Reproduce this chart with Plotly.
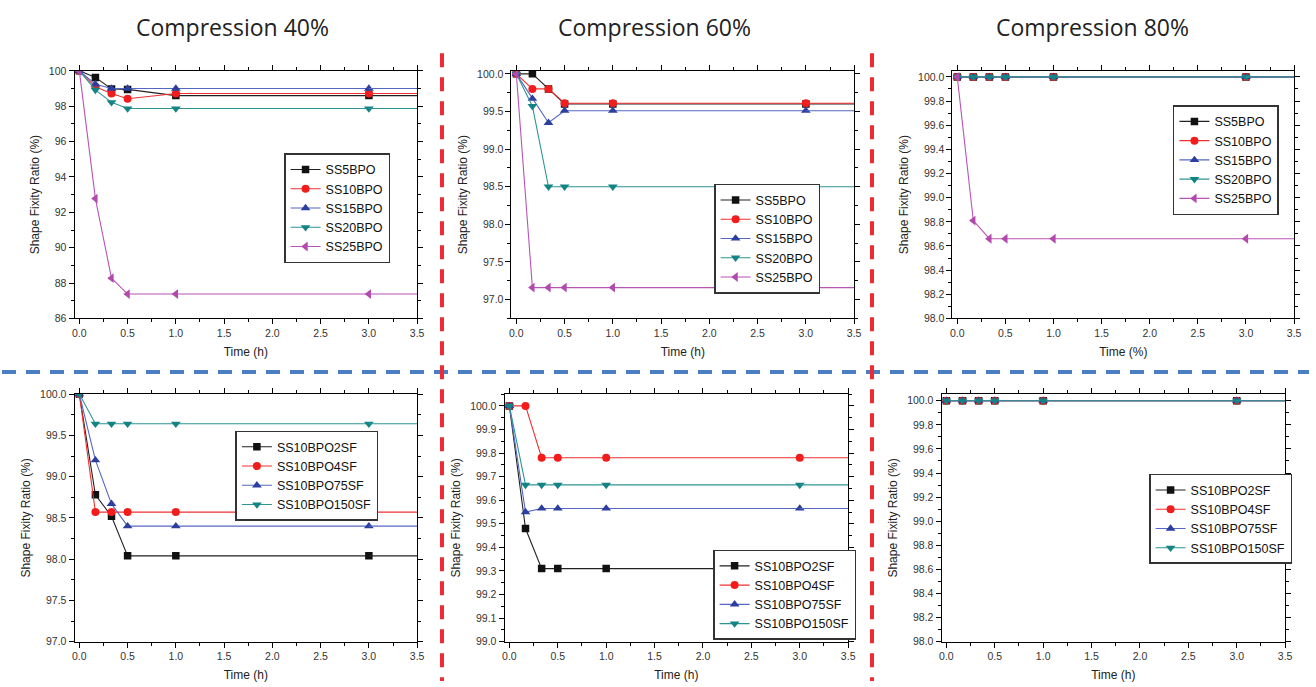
import plotly.graph_objects as go

W, H = 1316, 687

# ---------------------------------------------------------------- data
TIME_H = [0.0, 1 / 6, 1 / 3, 0.5, 1.0, 3.0]
X_END = 4.0  # curves keep running past the right edge of each window

BPO_LABELS = ["SS5BPO", "SS10BPO", "SS15BPO", "SS20BPO", "SS25BPO"]
SF_LABELS = ["SS10BPO2SF", "SS10BPO4SF", "SS10BPO75SF", "SS10BPO150SF"]

# Compression 40 %
C40_SS5BPO = [100.0, 99.63, 98.98, 98.95, 98.60, 98.60]
C40_SS10BPO = [100.0, 99.10, 98.72, 98.42, 98.72, 98.72]
C40_SS15BPO = [100.0, 99.24, 99.00, 99.00, 99.00, 99.00]
C40_SS20BPO = [100.0, 98.92, 98.22, 97.87, 97.87, 97.87]
C40_SS25BPO = [100.0, 92.78, 88.28, 87.38, 87.38, 87.38]

# Compression 60 %
C60_SS5BPO = [100.0, 100.0, 99.80, 99.60, 99.60, 99.60]
C60_SS10BPO = [100.0, 99.80, 99.80, 99.61, 99.61, 99.61]
C60_SS15BPO = [100.0, 99.67, 99.35, 99.51, 99.51, 99.51]
C60_SS20BPO = [100.0, 99.57, 98.50, 98.50, 98.50, 98.50]
C60_SS25BPO = [100.0, 97.16, 97.16, 97.16, 97.16, 97.16]

# Compression 80 %
C80_SS5BPO = [100.0, 100.0, 100.0, 100.0, 100.0, 100.0]
C80_SS10BPO = [100.0, 100.0, 100.0, 100.0, 100.0, 100.0]
C80_SS15BPO = [100.0, 100.0, 100.0, 100.0, 100.0, 100.0]
C80_SS20BPO = [100.0, 100.0, 100.0, 100.0, 100.0, 100.0]
C80_SS25BPO = [100.0, 98.81, 98.66, 98.66, 98.66, 98.66]

# Silica-filled, compression 40 %
C40_2SF = [100.0, 98.78, 98.52, 98.04, 98.04, 98.04]
C40_4SF = [100.0, 98.57, 98.57, 98.57, 98.57, 98.57]
C40_75SF = [100.0, 99.20, 98.67, 98.40, 98.40, 98.40]
C40_150SF = [100.0, 99.64, 99.64, 99.64, 99.64, 99.64]

# Silica-filled, compression 60 %
C60_2SF = [100.0, 99.48, 99.31, 99.31, 99.31, 99.31]
C60_4SF = [100.0, 100.0, 99.78, 99.78, 99.78, 99.78]
C60_75SF = [100.0, 99.55, 99.565, 99.565, 99.565, 99.565]
C60_150SF = [100.0, 99.665, 99.665, 99.665, 99.665, 99.665]

# Silica-filled, compression 80 %
C80_2SF = [100.0, 100.0, 100.0, 100.0, 100.0, 100.0]
C80_4SF = [100.0, 100.0, 100.0, 100.0, 100.0, 100.0]
C80_75SF = [100.0, 100.0, 100.0, 100.0, 100.0, 100.0]
C80_150SF = [100.0, 100.0, 100.0, 100.0, 100.0, 100.0]

COLUMN_TITLES = ["Compression 40%", "Compression 60%", "Compression 80%"]

# ---------------------------------------------------------------- styles
STYLES = [
    dict(symbol="square", marker="#111111", line="#222222", size=7.5),
    dict(symbol="circle", marker="#f21c1c", line="#f03030", size=8),
    dict(symbol="triangle-up", marker="#2c3f9e", line="#5567c2", size=8.5),
    dict(symbol="triangle-down", marker="#148383", line="#2e9494", size=8.5),
    dict(symbol="triangle-left", marker="#b24aae", line="#b854b4", size=8.5),
]

FONT = "Arial, Liberation Sans, sans-serif"
TICK_FONT = dict(family=FONT, size=10.5, color="#333333")
TITLE_FONT = dict(family=FONT, size=12, color="#222222")
LEGEND_FONT = dict(family=FONT, size=12.5, color="#111111")


def px_x(x):
    return x / W


def px_y(y):
    return 1 - y / H


# Plot boxes in pixels (left, right, top, bottom), y window and ticks,
# legend anchor (left x, y, vertical anchor)
PANELS = [
    dict(box=(73, 418, 66, 318), yr=(86, 100), dt=2, mdt=1, fmt="d",
         xt="Time (h)", leg=(284, 206, "middle"),
         labels=BPO_LABELS,
         series=[C40_SS5BPO, C40_SS10BPO, C40_SS15BPO, C40_SS20BPO, C40_SS25BPO]),
    dict(box=(513, 858, 66, 318), yr=(96.75, 100.04), dt=0.5, mdt=0.25, fmt=".1f",
         xt="Time (h)", leg=(717, 237, "middle"),
         labels=BPO_LABELS,
         series=[C60_SS5BPO, C60_SS10BPO, C60_SS15BPO, C60_SS20BPO, C60_SS25BPO]),
    dict(box=(957, 1301, 66, 318), yr=(98, 100.05), dt=0.2, mdt=0.1, fmt=".1f",
         xt="Time (%)", leg=(1179, 157, "middle"),
         labels=BPO_LABELS,
         series=[C80_SS5BPO, C80_SS10BPO, C80_SS15BPO, C80_SS20BPO, C80_SS25BPO]),
    dict(box=(73, 418, 395, 647), yr=(97, 100), dt=0.5, mdt=0.25, fmt=".1f",
         xt="Time (h)", leg=(235, 478, "middle"),
         labels=SF_LABELS,
         series=[C40_2SF, C40_4SF, C40_75SF, C40_150SF]),
    dict(box=(506, 852, 395, 647), yr=(99, 100.05), dt=0.1, mdt=0.05, fmt=".1f",
         xt="Time (h)", leg=(716, 645, "bottom"),
         labels=SF_LABELS,
         series=[C60_2SF, C60_4SF, C60_75SF, C60_150SF]),
    dict(box=(946, 1292, 395, 647), yr=(98, 100.055), dt=0.2, mdt=0.1, fmt=".1f",
         xt="Time (h)", leg=(1155, 522, "middle"),
         labels=SF_LABELS,
         series=[C80_2SF, C80_4SF, C80_75SF, C80_150SF]),
]

fig = go.Figure()
layout = dict(
    width=W, height=H,
    margin=dict(l=0, r=0, t=0, b=0),
    paper_bgcolor="white", plot_bgcolor="white",
    showlegend=True,
)

for i, p in enumerate(PANELS):
    n = i + 1
    sfx = "" if n == 1 else str(n)
    xa, ya, lg = f"x{sfx}", f"y{sfx}", f"legend{sfx}"

    for name, vals, st in zip(p["labels"], p["series"], STYLES):
        fig.add_trace(go.Scatter(
            x=TIME_H, y=vals,
            mode="lines+markers", name=name,
            line=dict(color=st["line"], width=1.1),
            marker=dict(symbol=st["symbol"], color=st["marker"],
                        size=st["size"], line=dict(width=0)),
            xaxis=xa, yaxis=ya, legend=lg,
        ))
        # the level after the last reading runs on past the window
        fig.add_trace(go.Scatter(
            x=[TIME_H[-1], X_END], y=[vals[-1], vals[-1]],
            mode="lines", showlegend=False, hoverinfo="skip",
            line=dict(color=st["line"], width=1.1),
            xaxis=xa, yaxis=ya, legend=lg,
        ))

    l, r, t, b = p["box"]
    common = dict(
        showline=True, linecolor="black", linewidth=1, mirror="allticks",
        ticks="outside", ticklen=5, tickwidth=1, tickcolor="black",
        showgrid=False, zeroline=False, tickfont=TICK_FONT,
    )
    layout[f"xaxis{sfx}"] = dict(
        common, domain=[px_x(l), px_x(r)], anchor=ya,
        range=[-0.05, 3.5], tick0=0, dtick=0.5, tickformat=".1f",
        minor=dict(ticks="outside", dtick=0.25, ticklen=3, tickcolor="black"),
        title=dict(text=p["xt"], font=TITLE_FONT, standoff=9),
    )
    layout[f"yaxis{sfx}"] = dict(
        common, domain=[px_y(b), px_y(t)], anchor=xa,
        range=list(p["yr"]), tick0=p["yr"][0] if p["fmt"] == "d" else 0,
        dtick=p["dt"], tickformat=p["fmt"],
        minor=dict(ticks="outside", dtick=p["mdt"], ticklen=3, tickcolor="black"),
        title=dict(text="Shape Fixity Ratio (%)", font=TITLE_FONT, standoff=6),
    )
    lx, ly, anchor = p["leg"]
    layout[lg] = dict(
        x=px_x(lx), y=px_y(ly), xanchor="left", yanchor=anchor,
        bgcolor="white", bordercolor="#333333", borderwidth=1.5,
        font=LEGEND_FONT, itemwidth=30, tracegroupgap=0,
    )

fig.update_layout(**layout)

# column headings
for text, cx in zip(COLUMN_TITLES, [232, 657, 1098]):
    fig.add_annotation(
        text=text, x=px_x(cx), y=px_y(21), xref="paper", yref="paper",
        showarrow=False, xanchor="center", yanchor="middle",
        font=dict(family="Open Sans, sans-serif", size=23, color="#222222"),
    )

# dashed separators between the panels
fig.add_shape(type="line", xref="paper", yref="paper",
              x0=0, x1=1, y0=px_y(372.5), y1=px_y(372.5),
              line=dict(color="#4a7fc2", width=4, dash="14px,10px"))
for sx in (443, 876):
    fig.add_shape(type="line", xref="paper", yref="paper",
                  x0=px_x(sx), x1=px_x(sx), y0=px_y(48), y1=0,
                  line=dict(color="#ee2a33", width=4, dash="14px,10px"))

fig.write_html("out.html")
